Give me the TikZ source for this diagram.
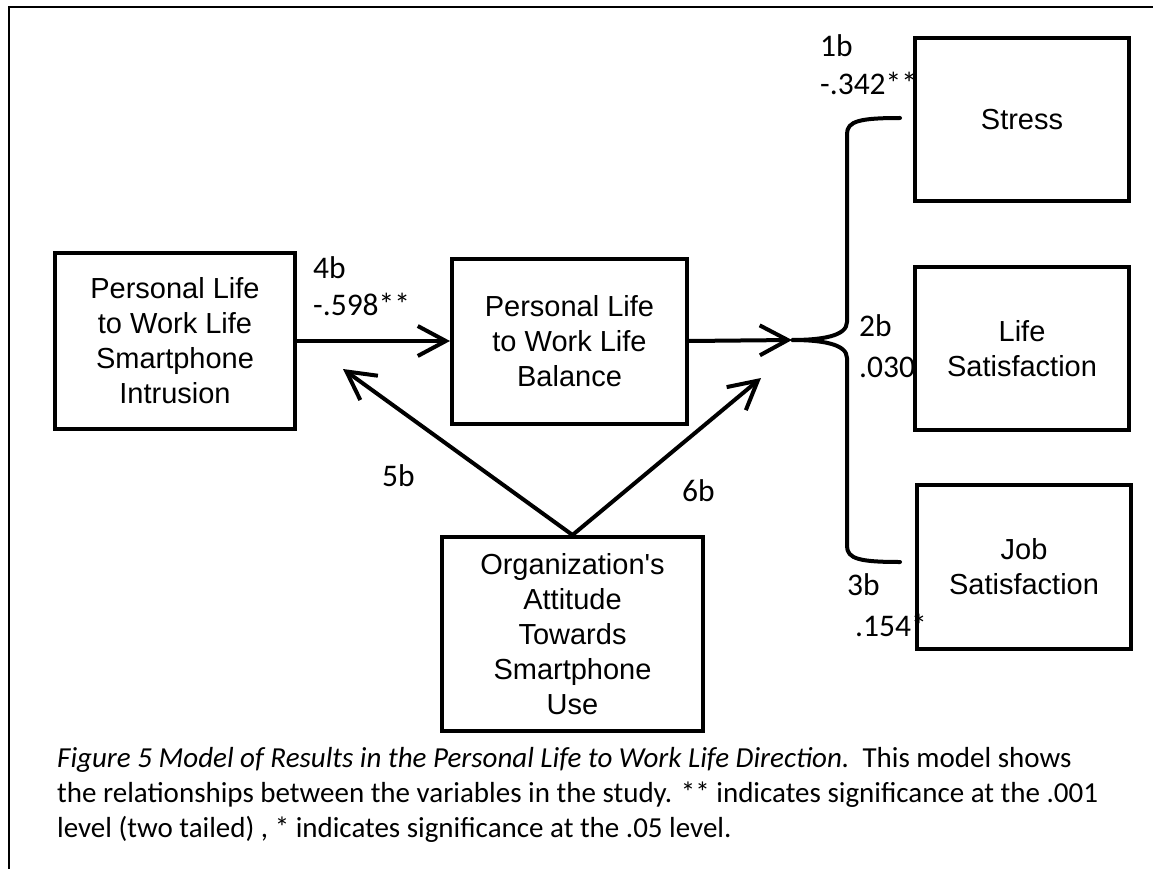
\documentclass[tikz,border=0pt]{standalone}
\usepackage{fontspec}
\usetikzlibrary{arrows.meta}
\newfontfamily\boxfont{Liberation Sans}
\newfontfamily\labelfont{Carlito}
\tikzset{
  varbox/.style={draw, line width=4pt, align=center, inner sep=0pt,
    font=\boxfont\fontsize{29}{35}\selectfont},
  pathline/.style={line width=4pt, line cap=round,
    -{Straight Barb[length=28pt,width=30pt]}},
  bracket/.style={line width=4pt, line cap=round, line join=round},
  coef/.style={anchor=base west, inner sep=0pt,
    font=\labelfont\fontsize{31.5}{37}\selectfont},
  captext/.style={anchor=base west, inner sep=0pt,
    font=\labelfont\fontsize{29}{35}\selectfont},
  frameline/.style={line width=2pt}
}
\begin{document}
\begin{tikzpicture}[x=1pt, y=-1pt]
\useasboundingbox (0,0) rectangle (1153,869);

% page frame (top and left rules)
\draw[frameline] (1153,7) -- (9,7) -- (9,869);

% variables
\node[varbox, minimum width=240pt, minimum height=176pt] (intr) at (175,341)
  {Personal Life\\to Work Life\\Smartphone\\Intrusion};
\node[varbox, minimum width=235pt, minimum height=165pt] (bal) at (569.5,341)
  {Personal Life\\to Work Life\\Balance};
\node[varbox, minimum width=261pt, minimum height=194pt] (org) at (572.5,634)
  {Organization's\\Attitude\\Towards\\Smartphone\\Use};
\node[varbox, minimum width=214pt, minimum height=163pt] (stress) at (1022,119.5)
  {Stress};
\node[varbox, minimum width=214pt, minimum height=163pt] (life) at (1022,348.5)
  {Life\\Satisfaction};
\node[varbox, minimum width=214pt, minimum height=164pt] (job) at (1024,567)
  {Job\\Satisfaction};

% free ends of the connectors
\coordinate (split) at (792,340);
\coordinate (mod5) at (343,369);
\coordinate (mod6) at (761,378);
\coordinate (brtop) at (900,118);
\coordinate (brbot) at (900,562);

% paths
\draw[pathline] (intr.east) -- (bal.west);
\draw[pathline] (bal.east) -- (split);
\draw[pathline] (org.north) -- (mod5);
\draw[pathline] (org.north) -- (mod6);

% bracket fanning out to the three outcomes
\draw[bracket] (brtop) .. controls (860,118) and (847,121) .. (847,134)
  -- (847,322) .. controls (847,336) and (822,340) .. (split)
  .. controls (822,340) and (847,344) .. (847,358)
  -- (847,546) .. controls (847,559) and (860,562) .. (brbot);

% path coefficients
\node[coef] (l4a) at (313,278) {4b};
\node[coef] (l4b) at (313,315) {-.598**};
\node[coef] (l1a) at (820,57) {1b};
\node[coef] (l1b) at (820,95) {-.342**};
\node[coef] (l2a) at (859,336) {2b};
\node[coef] (l2b) at (859,377) {.030};
\node[coef] (l3a) at (847,595) {3b};
\node[coef] (l3b) at (855,636) {.154*};
\node[coef] (l5) at (382,486) {5b};
\node[coef] (l6) at (682,501) {6b};

% caption
\node[captext] (cap1) at (57,767)
  {\itshape Figure 5 Model of Results in the Personal Life to Work Life Direction.\upshape\ \ This model shows};
\node[captext] (cap2) at (57,802)
  {the relationships between the variables in the study. ** indicates significance at the .001};
\node[captext] (cap3) at (57,837)
  {level (two tailed) , * indicates significance at the .05 level.};
\end{tikzpicture}
\end{document}
